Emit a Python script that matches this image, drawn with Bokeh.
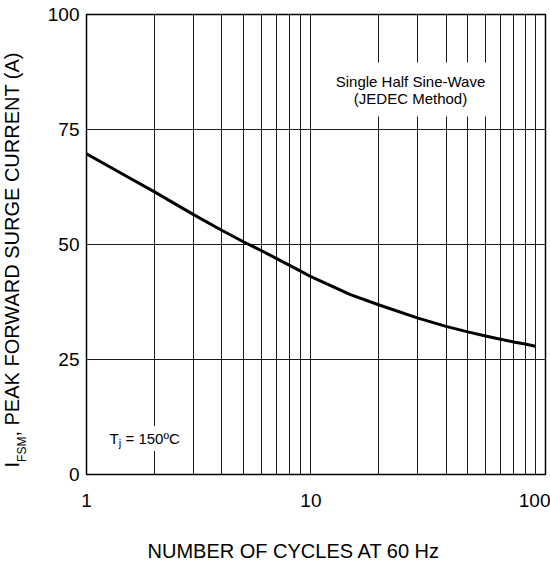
import math
from bokeh.plotting import figure
from bokeh.models import FixedTicker, Label, Range1d, BasicTickFormatter
from bokeh.layouts import row, column
from bokeh.embed import file_html
from bokeh.resources import INLINE

# Data (surge current vs number of cycles)
cycles = [1, 1.5, 2, 3, 4, 5, 6, 7, 8, 9, 10, 15, 20, 30, 40, 50, 60, 70, 80, 90, 100]
surge_current = [69.7, 64.9, 61.5, 56.5, 53.1, 50.6, 48.7, 47.0, 45.5, 44.2, 43.0,
                 39.1, 36.9, 34.0, 32.2, 31.0, 30.1, 29.4, 28.8, 28.35, 27.9]
x_tick_values = [1, 10, 100]
x_grid_values = [1, 2, 3, 4, 5, 6, 7, 8, 9, 10, 20, 30, 40, 50, 60, 70, 80, 90, 100]
y_tick_values = [0, 25, 50, 75, 100]
y_grid_values = [25, 50, 75]

FONT = "Liberation Sans"
H1 = 530          # height of the top row (strip + chart)
H2 = 32           # height of the bottom strip (x title)
LW = 34           # width of the left strip (y title)
FRAME_TOP, FRAME_BOTTOM, FRAME_LEFT, FRAME_RIGHT = 14, 474, 86, 545

def blank(width, height, xr, yr, **borders):
    f = figure(width=width, height=height, x_range=xr, y_range=yr,
               output_backend="svg", toolbar_location=None,
               x_axis_location=None, y_axis_location=None, **borders)
    f.xgrid.visible = False
    f.ygrid.visible = False
    f.outline_line_color = None
    f.background_fill_color = "white"
    f.border_fill_color = "white"
    return f

# ---- left strip: y-axis title with subscript (data units = page pixels, y negated) ----
t = blank(LW, H1, Range1d(0, LW), Range1d(-FRAME_BOTTOM, -FRAME_TOP),
          min_border_left=0, min_border_right=0,
          min_border_top=FRAME_TOP, min_border_bottom=H1 - FRAME_BOTTOM)

def tlab(text, x, y, size):
    t.add_layout(Label(x=x, y=-y, text=text, angle=math.pi / 2,
                       text_align="left", text_baseline="middle",
                       text_font=FONT, text_font_size=f"{size}px", text_color="black"))

tlab("I", 11.5, 467, 20)
tlab("FSM", 21, 461.4, 12)
tlab(", PEAK FORWARD SURGE CURRENT (A)", 11.5, 436.1, 20)

# ---- main chart ----
p = figure(width=550 - LW, height=H1, x_axis_type="log",
           x_range=Range1d(1, 111), y_range=Range1d(0, 100),
           output_backend="svg", toolbar_location=None,
           min_border_left=FRAME_LEFT - LW, min_border_right=550 - FRAME_RIGHT,
           min_border_top=FRAME_TOP, min_border_bottom=H1 - FRAME_BOTTOM)

p.background_fill_color = "white"
p.border_fill_color = "white"
p.outline_line_color = "black"
p.outline_line_width = 1.5

p.xgrid.ticker = FixedTicker(ticks=x_grid_values)
p.ygrid.ticker = FixedTicker(ticks=y_grid_values)
for g in (p.xgrid, p.ygrid):
    g.grid_line_color = "#1a1a1a"
    g.grid_line_width = 1
p.xgrid.minor_grid_line_color = None

p.xaxis.ticker = FixedTicker(ticks=x_tick_values)
p.xaxis.formatter = BasicTickFormatter()
p.yaxis.ticker = FixedTicker(ticks=y_tick_values)
for ax in (p.xaxis, p.yaxis):
    ax.axis_line_color = None
    ax.major_tick_line_color = None
    ax.minor_tick_line_color = None
    ax.major_tick_out = 0
    ax.major_tick_in = 0
    ax.minor_tick_out = 0
    ax.minor_tick_in = 0
    ax.major_label_text_font = FONT
    ax.major_label_text_font_size = "19px"
    ax.major_label_text_color = "black"
p.xaxis.major_label_standoff = 19
p.yaxis.major_label_standoff = 7

p.line(cycles, surge_current, line_color="black", line_width=3, line_join="round")

def lab(text, xo, yo, size, x=1, y=0, **kw):
    l = Label(x=x, y=y, x_offset=xo, y_offset=yo, text=text,
              text_font=FONT, text_font_size=f"{size}px", text_color="black", **kw)
    p.add_layout(l)
    return l

lab("Single Half Sine-Wave\n(JEDEC Method)", 324, -48, 15, y=100,
    text_align="center", text_baseline="top", text_line_height=1.0,
    background_fill_color="white", padding=10)

lab("= 150ºC", 35, 36, 15, text_align="left", text_baseline="middle",
    background_fill_color="white", padding=4)
lab("T", 23, 36, 15, text_align="left", text_baseline="middle")
lab("j", 32.2, 31.6, 11, text_align="left", text_baseline="middle")

# ---- bottom strip: x-axis title (data units = page pixels, y negated) ----
b = blank(550, H2, Range1d(FRAME_LEFT, FRAME_RIGHT), Range1d(-(H1 + H2), -H1),
          min_border_left=FRAME_LEFT, min_border_right=550 - FRAME_RIGHT,
          min_border_top=0, min_border_bottom=0)
b.add_layout(Label(x=147, y=-550, text="NUMBER OF CYCLES AT 60 Hz",
                   text_align="left", text_baseline="middle",
                   text_font=FONT, text_font_size="20px", text_color="black"))

layout = column(row(t, p), b)
open("out.html", "w").write(file_html(layout, INLINE))
